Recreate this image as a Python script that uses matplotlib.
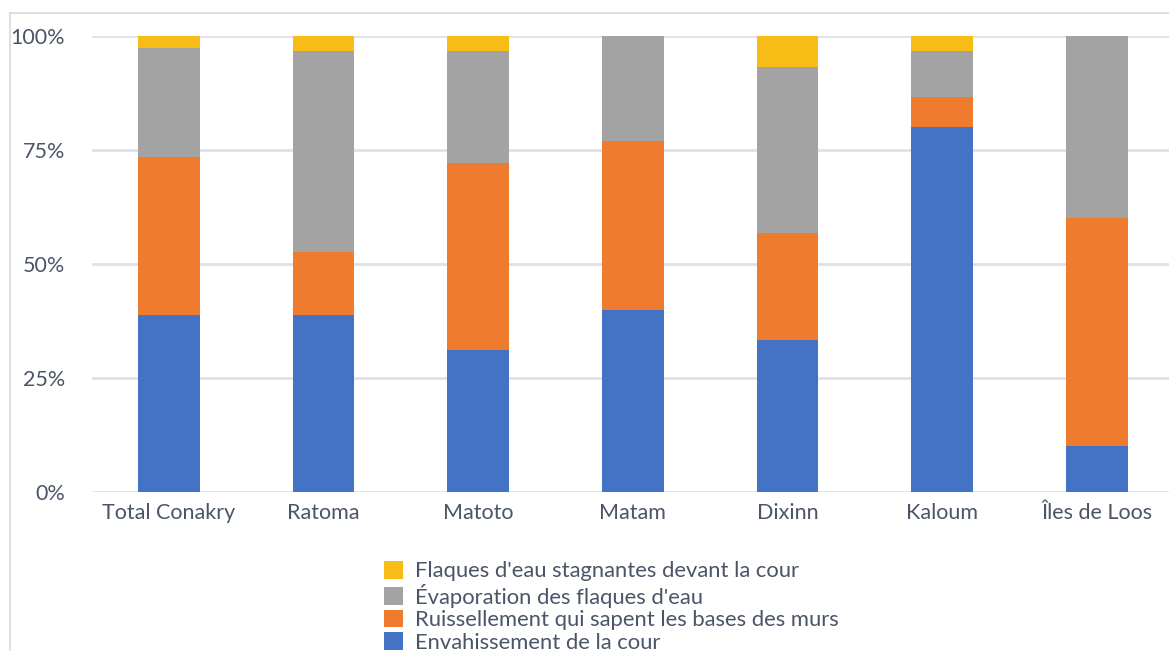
import matplotlib
matplotlib.use("Agg")
import matplotlib.pyplot as plt
from matplotlib.patches import Patch
from matplotlib.lines import Line2D
import numpy as np

plt.rcParams['font.family'] = ['Lato', 'DejaVu Sans']

categories = ["Total Conakry", "Ratoma", "Matoto", "Matam", "Dixinn", "Kaloum", "Îles de Loos"]
envahissement = [38.8, 38.8, 31.2, 40.0, 33.3, 80.0, 10.0]
ruissellement = [34.7, 13.8, 40.9, 36.9, 23.4, 6.7, 50.0]
evaporation = [23.9, 44.1, 24.6, 23.1, 36.6, 10.0, 40.0]
flaques = [2.6, 3.3, 3.3, 0.0, 6.7, 3.3, 0.0]

series_names = [
    "Envahissement de la cour",
    "Ruissellement qui sapent les bases des murs",
    "Évaporation des flaques d'eau",
    "Flaques d'eau stagnantes devant la cour",
]
series_values = [envahissement, ruissellement, evaporation, flaques]
series_colors = ["#4472C4", "#EF7B2F", "#A3A3A3", "#F8BC16"]
yticks = [0, 25, 50, 75, 100]
ytick_labels = ["0%", "25%", "50%", "75%", "100%"]

text_color = "#4A5568"
grid_color = "#DEE2E8"

W, H = 1169, 651
fig = plt.figure(figsize=(W / 100, H / 100), dpi=100)
ax = fig.add_axes([91.6 / W, 1 - 492 / H, (1174 - 91.6) / W, (492 - 36) / H])

x = np.arange(len(categories))
bottom = np.zeros(len(categories))
for vals, color, name in zip(series_values, series_colors, series_names):
    vals = np.array(vals, dtype=float)
    ax.bar(x, vals, width=0.4, bottom=bottom, color=color, label=name, zorder=3)
    bottom += vals

ax.set_xlim(-0.5, len(categories) - 0.5)
ax.set_ylim(0, 100)
ax.set_yticks(yticks)
ax.set_yticklabels(ytick_labels)
ax.set_xticks(x)
ax.set_xticklabels(categories)
ax.tick_params(axis='both', length=0, labelsize=15.5, colors=text_color)
ax.tick_params(axis='y', pad=19)
ax.tick_params(axis='x', pad=8)
ax.yaxis.grid(True, color=grid_color, linewidth=2, zorder=0)
for s in ax.spines.values():
    s.set_visible(False)
ax.set_axisbelow(True)

# outer chart frame
fig.add_artist(Line2D([10 / W, 10 / W], [0, 1 - 13 / H], transform=fig.transFigure,
                      color="#D9D9D9", linewidth=1.2))
fig.add_artist(Line2D([10 / W, 1], [1 - 13 / H, 1 - 13 / H], transform=fig.transFigure,
                      color="#D9D9D9", linewidth=1.2))

handles = [Patch(facecolor=c, edgecolor='none') for c in series_colors][::-1]
labels = series_names[::-1]
leg = fig.legend(handles, labels, loc='upper left', bbox_to_anchor=(384 / W, 1 - 561 / H),
                 frameon=False, fontsize=15.8, labelcolor=text_color,
                 handlelength=0.85, handleheight=0.85, handletextpad=0.55,
                 labelspacing=0.1, borderpad=0, borderaxespad=0)

fig.savefig("out.png", dpi=100, facecolor="white")
